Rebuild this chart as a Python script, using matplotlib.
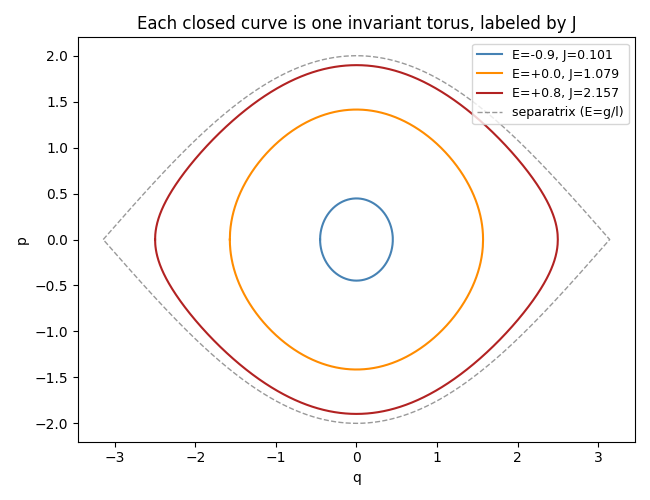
import numpy as np
import matplotlib
matplotlib.use("Agg")
import matplotlib.pyplot as plt

energies = [-0.9, 0.0, 0.8]
actions = [0.101, 1.079, 2.157]
colors = ["steelblue", "darkorange", "firebrick"]
g_over_l = 1.0

fig, ax = plt.subplots(figsize=(6.5, 5), dpi=100)
for E, J, c in zip(energies, actions, colors):
    qmax = np.arccos(-E / g_over_l)
    q = np.linspace(-qmax, qmax, 2000)
    p = np.sqrt(np.clip(2 * (E + g_over_l * np.cos(q)), 0, None))
    qq = np.concatenate([q, q[::-1]])
    pp = np.concatenate([p, -p[::-1]])
    ax.plot(qq, pp, color=c, lw=1.5, label=f"E={E:+.1f}, J={J:.3f}".replace("E=+-", "E=-"))
q = np.linspace(-np.pi, np.pi, 1000)
ps = 2 * np.sqrt(g_over_l) * np.cos(q / 2)
ax.plot(np.concatenate([q, q[::-1]]), np.concatenate([ps, -ps[::-1]]),
        "--", color="gray", lw=1, alpha=0.8, label="separatrix (E=g/l)")
ax.set_xlabel("q")
ax.set_ylabel("p")
ax.set_title("Each closed curve is one invariant torus, labeled by J")
ax.legend(loc="upper right", fontsize=9)
fig.tight_layout()
fig.savefig("out.png")
